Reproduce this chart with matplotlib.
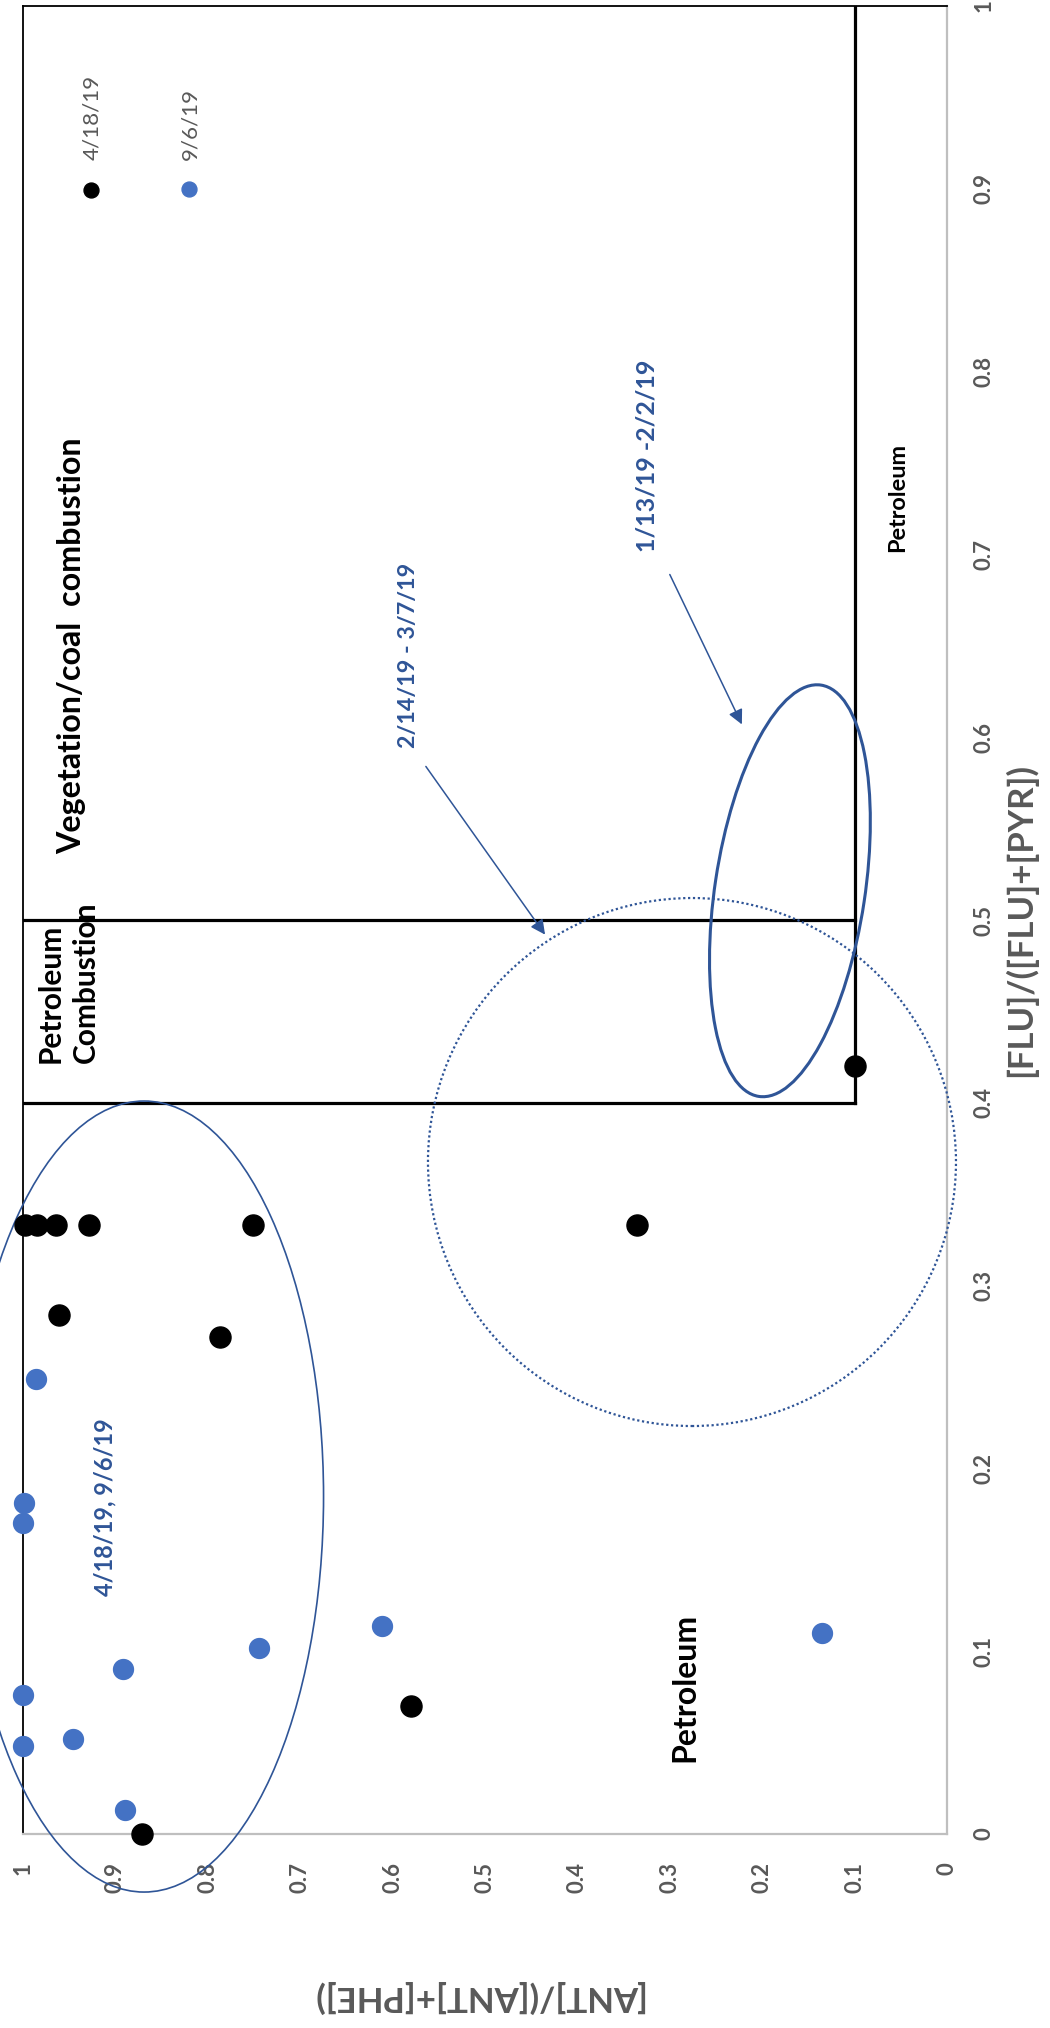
import numpy as np
import matplotlib.pyplot as plt
from matplotlib.patches import Ellipse
from matplotlib.transforms import ScaledTranslation

# =========================
# Data
# =========================
# x value = [ANT]/([ANT]+[PHE]), y value = [FLU]/([FLU]+[PYR])
ant_0418 = [0.871, 0.58, 0.787, 0.961, 0.998, 0.985, 0.964, 0.929, 0.751, 0.335, 0.10]
flu_0418 = [0.0, 0.070, 0.272, 0.284, 0.333, 0.333, 0.333, 0.333, 0.333, 0.333, 0.42]

ant_0906 = [0.890, 0.946, 1.0, 1.0, 0.892, 0.745, 0.611, 0.135, 1.0, 0.999, 0.986]
flu_0906 = [0.013, 0.052, 0.048, 0.076, 0.090, 0.102, 0.114, 0.110, 0.170, 0.181, 0.249]

tick_values = [0, 0.1, 0.2, 0.3, 0.4, 0.5, 0.6, 0.7, 0.8, 0.9, 1]
tick_labels = ["0", "0.1", "0.2", "0.3", "0.4", "0.5", "0.6", "0.7", "0.8", "0.9", "1"]

# source region boundaries
flu_petro = 0.4
flu_comb = 0.5
ant_petro = 0.1

# =========================
# Styles
# =========================
plt.rcParams["font.family"] = ["Lato", "DejaVu Sans"]
gray = "#595959"
dark_blue = "#2F5597"
dot_blue = "#4472C4"

# the whole chart is turned a quarter turn counter-clockwise:
# ANT runs right -> left along the bottom, FLU runs bottom -> top on the right
fig = plt.figure(figsize=(10.5, 20.28), dpi=100)
W, H = 1050, 2028
ax = fig.add_axes([23 / W, (H - 1834) / H, 924 / W, 1828 / H])
ax.set_xlim(1, 0)
ax.set_ylim(0, 1)

for side in ["top", "left"]:
    ax.spines[side].set_color("black")
    ax.spines[side].set_linewidth(1.3)
for side in ["bottom", "right"]:
    ax.spines[side].set_color("#BFBFBF")
    ax.spines[side].set_linewidth(1.6)

ax.yaxis.tick_right()
ax.set_xticks(tick_values)
ax.set_xticklabels(tick_labels, rotation=90, va="top", ha="center")
ax.set_yticks(tick_values)
ax.set_yticklabels(tick_labels, rotation=90, va="center", ha="left")
ax.tick_params(axis="x", length=0, pad=20, labelsize=16, labelcolor=gray)
ax.tick_params(axis="y", length=0, pad=19, labelsize=16, labelcolor=gray)
for lab in ax.get_xticklabels() + ax.get_yticklabels():
    lab.set_fontweight("bold")

# =========================
# Region boxes
# =========================
ax.plot([1, ant_petro], [flu_petro, flu_petro], color="black", lw=2.3, zorder=2)
ax.plot([1, ant_petro], [flu_comb, flu_comb], color="black", lw=2.3, zorder=2)
ax.plot([ant_petro, ant_petro], [flu_petro, 1], color="black", lw=2.3, zorder=2)

# =========================
# Points
# =========================
ax.scatter(ant_0418, flu_0418, s=230, color="black", zorder=4, clip_on=False)
ax.scatter(ant_0906, flu_0906, s=205, color=dot_blue, zorder=4, clip_on=False)

# legend (drawn by hand so it can be turned)
ax.scatter([0.0736], [0.8993], s=115, color="black", transform=ax.transAxes, clip_on=False)
ax.scatter([0.1797], [0.8999], s=115, color=dot_blue, transform=ax.transAxes, clip_on=False)
leg1 = ax.text(0.0746, 0.916, "4/18/19", transform=ax.transAxes, rotation=90,
               ha="center", va="bottom", fontsize=16, color=gray)
leg2 = ax.text(0.1807, 0.916, "9/6/19", transform=ax.transAxes, rotation=90,
               ha="center", va="bottom", fontsize=16, color=gray)

# =========================
# Ellipses (sizes in inches, centred in data units)
# =========================
def ring(cx, cy, w, h, ang, **kw):
    tr = fig.dpi_scale_trans + ScaledTranslation(cx, cy, ax.transData)
    e = Ellipse((0, 0), w, h, angle=ang, transform=tr, fill=False,
                edgecolor=dark_blue, clip_on=False, **kw)
    ax.add_patch(e)

ring(0.869, 0.1846, 3.59, 7.91, 0, lw=1.2, zorder=3)
ring(0.276, 0.3676, 5.28, 5.28, 0, lw=1.6, linestyle=(0, (1, 1.2)), zorder=3)
ring(0.170, 0.516, 1.50, 4.16, -8.6, lw=2.2, zorder=3)

# =========================
# Annotations
# =========================
veg = ax.text(0.947, 0.650, "Vegetation/coal  combustion", rotation=90, ha="center",
              va="center", fontsize=23, fontweight="bold")
ax.text(0.951, 0.422, "Petroleum\nCombustion", rotation=90, ha="center",
        va="bottom", multialignment="left", fontsize=21.5, fontweight="bold",
        linespacing=1.3)
ax.text(0.284, 0.080, "Petroleum", rotation=90, ha="center", va="center",
        fontsize=23, fontweight="bold")
small = ax.text(0.053, 0.731, "Petroleum", rotation=90, ha="center", va="center",
                fontsize=15, fontweight="bold")

b1 = ax.text(0.911, 0.179, "4/18/19, 9/6/19", rotation=90, ha="center", va="center",
             fontsize=18, fontweight="bold", color=dark_blue)
b2 = ax.text(0.583, 0.645, "2/14/19 - 3/7/19", rotation=90, ha="center", va="center",
             fontsize=18, fontweight="bold", color=dark_blue)
ax.text(0.325, 0.754, "1/13/19 -2/2/19", rotation=90, ha="center", va="center",
        fontsize=18, fontweight="bold", color=dark_blue)

arrow = dict(arrowstyle="-|>", color=dark_blue, lw=1.1, mutation_scale=22,
             shrinkA=0, shrinkB=0)
ax.annotate("", xy=(0.435, 0.492), xytext=(0.564, 0.584), arrowprops=arrow)
ax.annotate("", xy=(0.222, 0.607), xytext=(0.300, 0.689), arrowprops=arrow)

# =========================
# Axis titles
# =========================
ylab = fig.text(477 / W, 1 - 1997 / H, "[ANT]/([ANT]+[PHE])", rotation=180,
                ha="center", va="center", fontsize=24, fontweight="bold", color=gray)
xlab = fig.text(1021 / W, 1 - 920 / H, "[FLU]/([FLU]+[PYR])", rotation=90,
                ha="center", va="center", fontsize=24, fontweight="bold", color=gray)

# scale a few texts so their length (in px) matches the picture
renderer = fig.canvas.get_renderer()
for t, length in [(veg, 418), (small, 110), (b1, 178), (b2, 185),
                  (leg1, 85), (ylab, 332)]:
    bb = t.get_window_extent(renderer)
    size = bb.width if t.get_rotation() == 180 else bb.height
    t.set_fontsize(t.get_fontsize() * length / size)
xlab.set_fontsize(ylab.get_fontsize())
leg2.set_fontsize(leg1.get_fontsize())

plt.savefig("out.png", dpi=100)
